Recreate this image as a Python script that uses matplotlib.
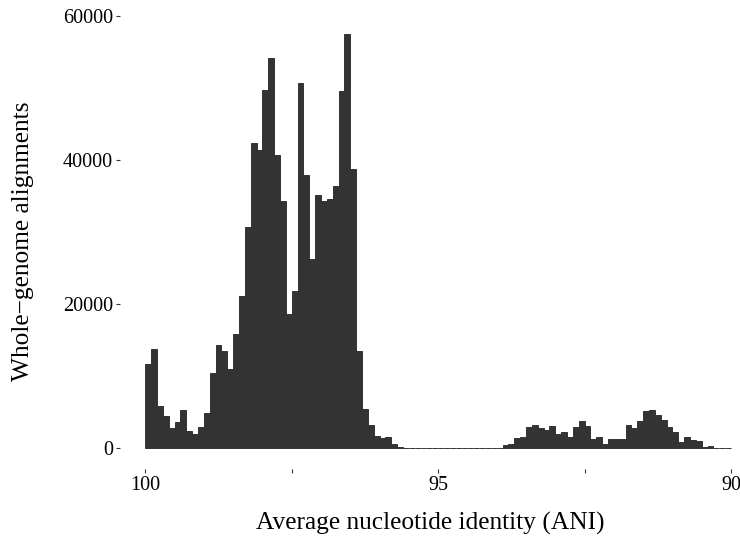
import numpy as np
from matplotlib import pyplot as plt

# counts per 0.1 ANI bin, going down from 100 to 90
counts = [
    11700, 13750, 5830, 4440, 2820, 3610, 5280, 2360, 1940, 2920,
    4860, 10420, 14300, 13470, 10970, 15830, 21110, 30700, 42360, 41390,
    49720, 54170, 40700, 34310, 18610, 21810, 50700, 37920, 26250, 35140,
    34310, 34580, 36390, 49580, 57500, 38750, 13470, 5460, 3190, 1670,
    1450, 1530, 560, 140, 0, 0, 0, 0, 0, 0,
    0, 0, 0, 0, 0, 0, 0, 0, 0, 0,
    0, 420, 560, 1390, 1530, 2920, 3190, 2780, 2500, 3060,
    1940, 2220, 1530, 2920, 3750, 3060, 1250, 1530, 560, 1250,
    1250, 1250, 3190, 2780, 3750, 5140, 5280, 4580, 3890, 2920,
    2220, 830, 1530, 1110, 970, 140, 280, 0, 0, 0,
]
bin_width = 0.1
x_ticks = [100, 97.5, 95, 92.5, 90]
x_labels = ["100", "", "95", "", "90"]
y_ticks = [0, 20000, 40000, 60000]


def main():
    plt.rcParams['font.family'] = ['Liberation Serif', 'DejaVu Serif']
    centers = 100 - bin_width * (np.arange(len(counts)) + 0.5)

    fig = plt.figure(figsize=(7.4, 5.45), dpi=100)
    ax = fig.add_axes([0.162, 0.1394, 0.838, 0.8367])
    ax.bar(centers, counts, width=bin_width, color="#333333",
           edgecolor="#333333", linewidth=0.7)

    ax.set_xlim(100.435, 89.846)
    ax.set_ylim(-2875, 60375)
    ax.set_xticks(x_ticks)
    ax.set_xticklabels(x_labels)
    ax.set_yticks(y_ticks)
    ax.set_yticklabels([str(v) for v in y_ticks])
    for s in ax.spines.values():
        s.set_visible(False)
    ax.tick_params(axis='both', length=3, width=0.8, color="#333333",
                   labelsize=14.5, labelcolor="black", pad=2)

    ax.set_xlabel("Average nucleotide identity (ANI)", fontsize=18.3, labelpad=12)
    ax.set_ylabel("Whole\u2212genome alignments", fontsize=18.3, labelpad=21)

    fig.savefig("out.png", dpi=100)


if __name__ == "__main__":
    main()
